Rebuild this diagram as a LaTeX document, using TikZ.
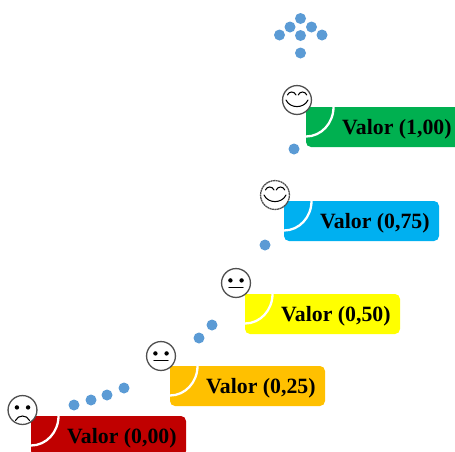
\documentclass[tikz,border=0pt]{standalone}
\usepackage{fontspec}
\setmainfont{Liberation Serif}
\usetikzlibrary{calc}
\definecolor{cdot}{HTML}{5B9BD5}
\definecolor{cred}{HTML}{C00000}
\definecolor{corange}{HTML}{FFC000}
\definecolor{cyellow}{HTML}{FFFF00}
\definecolor{cblue}{HTML}{00B0F0}
\definecolor{cgreen}{HTML}{00B050}
\definecolor{cface}{HTML}{505050}
\tikzset{
  x=1pt,y=-1pt,
  dotn/.style={circle,fill=cdot,draw=none,minimum size=11pt,inner sep=0pt,outer sep=0pt},
  facen/.style={circle,draw=cface,line width=1.3pt,fill=white,minimum size=28.9pt,inner sep=0pt},
  lab/.style={font=\bfseries\fontsize{21.8}{24}\selectfont,text=black,anchor=west,inner sep=0pt},
  feat/.style={black,line width=1.05pt,line cap=round},
  arcw/.style={white,line width=2.3pt},
}
% \valbox{name}{left}{top}{colour}{text}
\newcommand{\valbox}[5]{%
  \begin{scope}[shift={(#2,#3)}]
    \fill[#4] (0,0) -- (150,0) arc[start angle=90,end angle=0,radius=5pt]
       -- (155,35) arc[start angle=0,end angle=-90,radius=5pt]
       -- (5,40) arc[start angle=270,end angle=180,radius=5pt] -- cycle;
    \draw[arcw] (0,29.5) arc[start angle=270,end angle=360,x radius=27.5pt,y radius=29.5pt];
    \node[lab] (#1) at (36,22) {#5};
  \end{scope}}
\newcommand{\faceeyes}[1]{%
  \fill[black] ($(#1)+(-5.6,-2.6)$) circle[radius=2.2pt];
  \fill[black] ($(#1)+(5.6,-2.6)$) circle[radius=2.2pt];}
\newcommand{\facesmile}[1]{%
  \draw[feat] ($(#1)+(-11,0)$) .. controls ($(#1)+(-7,8.8)$) and ($(#1)+(7,8.8)$) .. ($(#1)+(11,0)$);
  \draw[feat] ($(#1)+(-9.6,-5)$) .. controls ($(#1)+(-8,-9)$) and ($(#1)+(-2.6,-9)$) .. ($(#1)+(-1,-5)$);
  \draw[feat] ($(#1)+(1.2,-5)$) .. controls ($(#1)+(2.8,-9)$) and ($(#1)+(8.2,-9)$) .. ($(#1)+(9.8,-5)$);}
\begin{document}
\begin{tikzpicture}
\useasboundingbox (0,0) rectangle (455,451);
\begin{scope}
\clip (0,0) rectangle (455,451);
\valbox{l0}{31}{416}{cred}{Valor (0,00)}
\valbox{l1}{170}{366}{corange}{Valor (0,25)}
\valbox{l2}{245}{294}{cyellow}{Valor (0,50)}
\valbox{l3}{284}{201}{cblue}{Valor (0,75)}
\valbox{l4}{306}{107}{cgreen}{Valor (1,00)}
\end{scope}
% dots
\node[dotn] (d1) at (74,405) {};
\node[dotn] (d2) at (91,400) {};
\node[dotn] (d3) at (107,395) {};
\node[dotn] (d4) at (124,388) {};
\node[dotn] (d5) at (199,338) {};
\node[dotn] (d6) at (212,325) {};
\node[dotn] (d7) at (265,245) {};
\node[dotn] (d8) at (294,149) {};
\node[dotn] (a1) at (300.5,53) {};
\node[dotn] (a2) at (300.5,35.5) {};
\node[dotn] (a3) at (279.5,35) {};
\node[dotn] (a4) at (322,35) {};
\node[dotn] (a5) at (290,27) {};
\node[dotn] (a6) at (311.5,27) {};
\node[dotn] (a7) at (300.5,18.5) {};
% faces
\node[facen] (f0) at (22.5,410) {};
\faceeyes{f0}
\draw[feat] ($(f0)+(-7,10.5)$) .. controls ($(f0)+(-4.5,4.5)$) and ($(f0)+(4.5,4.5)$) .. ($(f0)+(7,10.5)$);
\node[facen] (f1) at (161,356) {};
\faceeyes{f1}
\draw[feat] ($(f1)+(-7,4.7)$) -- ($(f1)+(7,4.7)$);
\node[facen] (f2) at (236,283) {};
\faceeyes{f2}
\draw[feat] ($(f2)+(-7,4.7)$) -- ($(f2)+(7,4.7)$);
\node[facen,dash pattern=on 2pt off 0.5pt] (f3) at (275,195) {};
\facesmile{f3}
\node[facen] (f4) at (297,100) {};
\facesmile{f4}
\end{tikzpicture}
\end{document}
